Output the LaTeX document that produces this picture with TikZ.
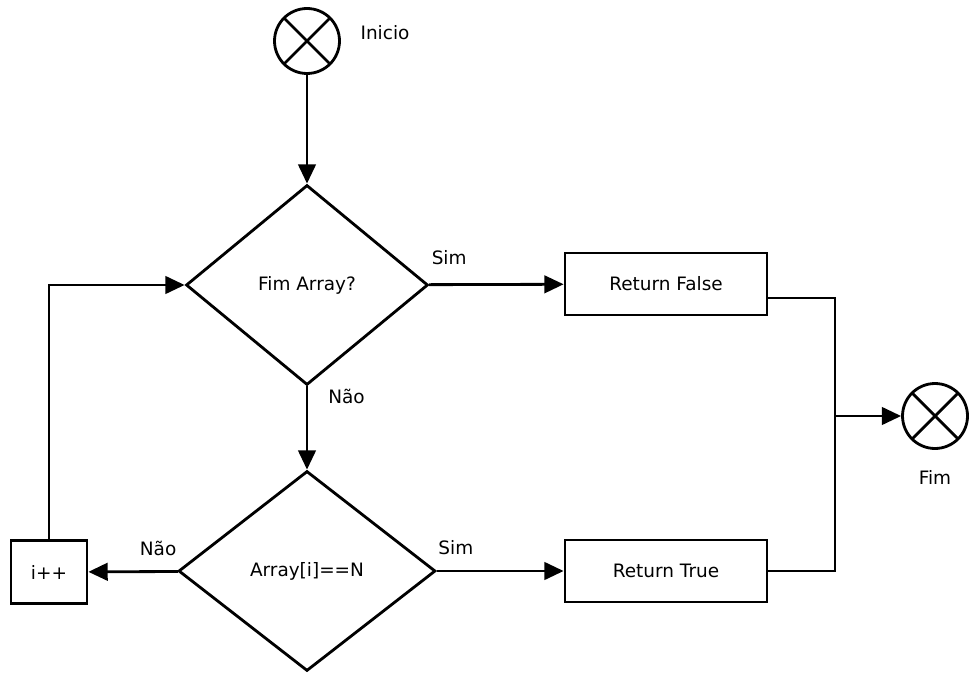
\documentclass[tikz,border=0pt]{standalone}
\usepackage{fontspec}
\setmainfont{DejaVu Sans}
\usetikzlibrary{shapes.geometric,arrows.meta}

\begin{document}
\begin{tikzpicture}[x=0.02cm, y=-0.02cm, line width=1.6pt,
  font=\fontsize{10.5}{12}\selectfont,
  decision/.style={draw, diamond, minimum width=#1, minimum height=4cm, inner sep=0pt},
  block/.style={draw, rectangle, minimum width=4.04cm, minimum height=1.24cm},
  terminal/.style={draw, circle, minimum size=1.3cm, inner sep=0pt,
    path picture={\draw (path picture bounding box.north west) -- (path picture bounding box.south east)
      (path picture bounding box.south west) -- (path picture bounding box.north east);}},
  flow/.style={-{Triangle[length=11pt,width=10pt]}}]
  \useasboundingbox (0,0) rectangle (969,675);
  \node [terminal] (inicio) at (307,41) {};
  \node (inicio label) at (385,33) {Inicio};
  \node [decision=4.84cm] (fimarray) at (307,285) {Fim Array?};
  \node [decision=5.14cm] (igual) at (307,571) {Array[i]==N};
  \node [block] (rfalse) at (666,284) {Return False};
  \node [block] (rtrue) at (666,571) {Return True};
  \node [draw, minimum width=1.52cm, minimum height=1.26cm] (incr) at (49,572) {i++};
  \node [terminal] (fim) at (935,416) {};
  \node (fim label) at (935,477) {Fim};
  \coordinate (junc) at (835,416);
  \draw[flow] (inicio) -- (fimarray);
  \draw[flow] (fimarray) -- (rfalse) node[pos=0.15, above=7pt] (sim1) {Sim};
  \draw[flow] (fimarray) -- (igual) node[pos=0.12, right=8pt] (nao1) {Não};
  \draw[flow] (igual) -- (rtrue) node[pos=0.15, above=5pt] (sim2) {Sim};
  \draw[flow] (igual) -- (incr) node[pos=0.22, above=5pt] (nao2) {Não};
  \draw[flow] (incr) |- (fimarray);
  \draw ([yshift=-0.28cm]rfalse.east) -| (junc);
  \draw (rtrue) -| (junc);
  \draw[flow] (junc) -- (fim);
\end{tikzpicture}
\end{document}
